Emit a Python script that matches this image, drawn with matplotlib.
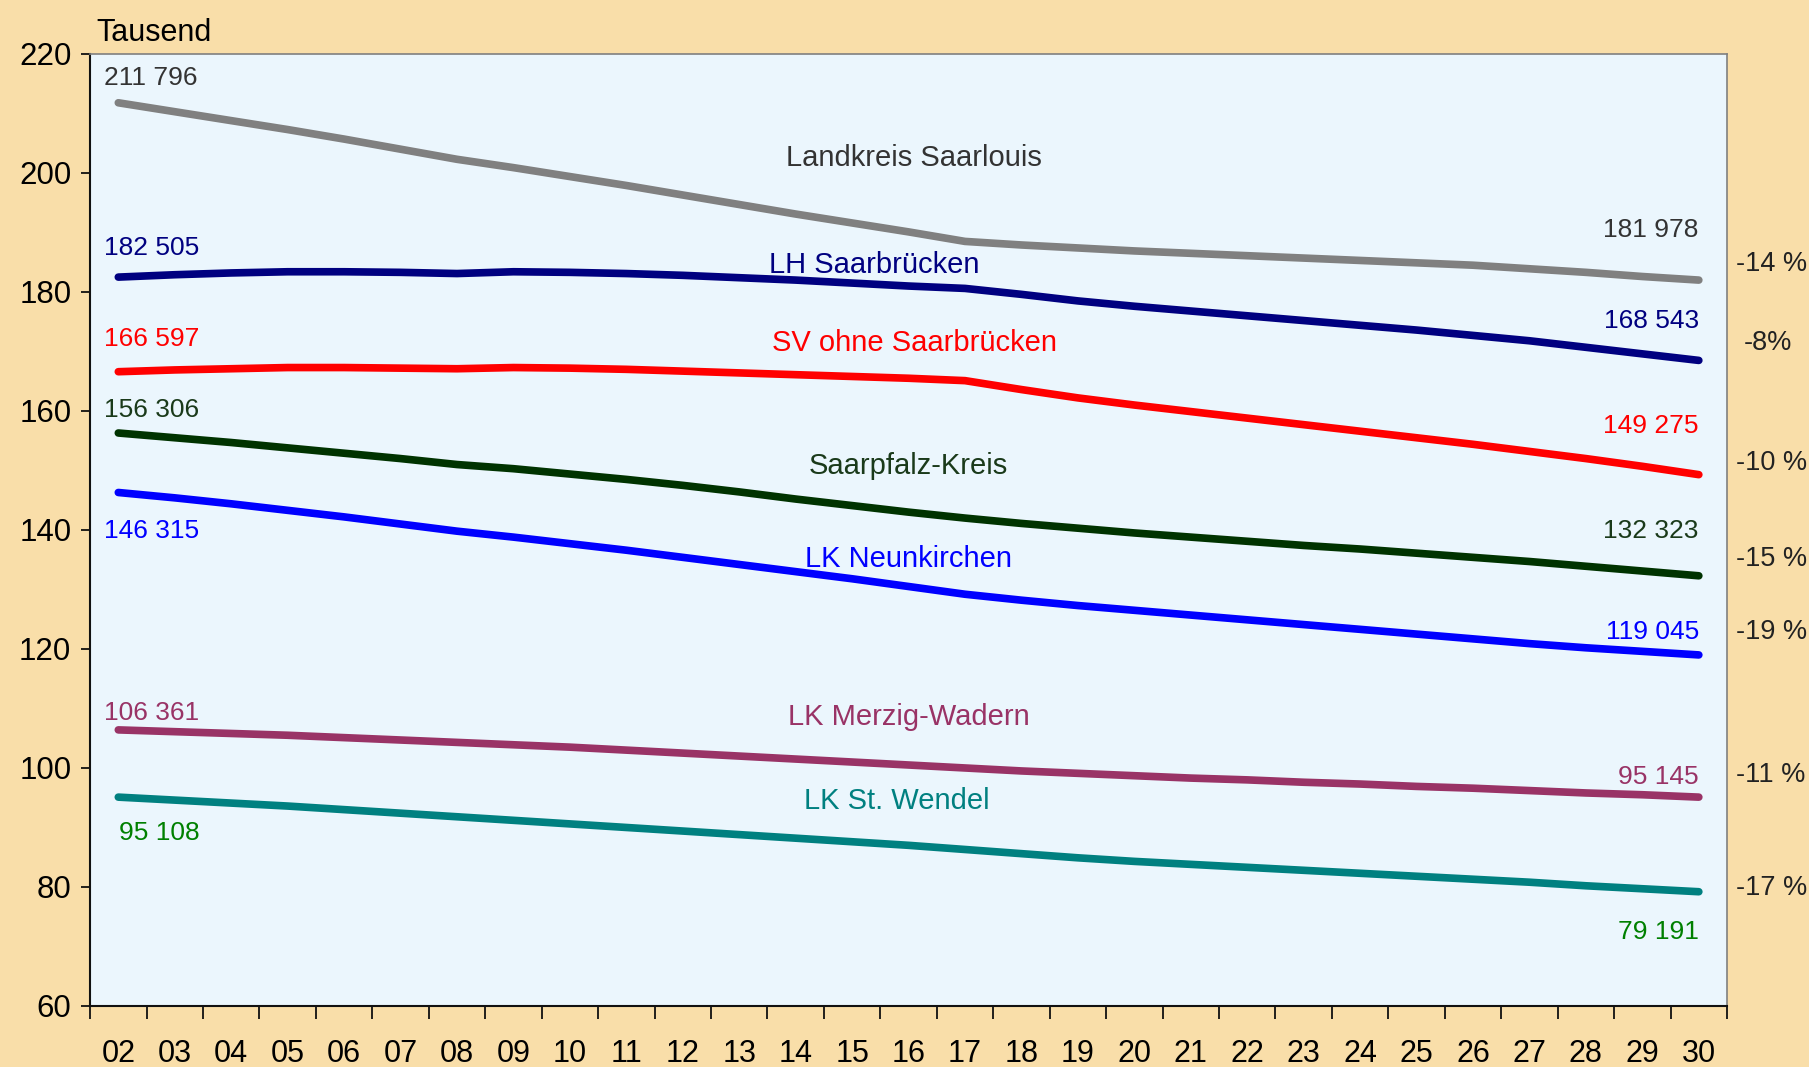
import matplotlib
matplotlib.use("Agg")
import matplotlib.pyplot as plt
from matplotlib.ticker import FixedLocator

plt.rcParams['font.family'] = ['Liberation Sans', 'DejaVu Sans']

# Jahre 2002-2030 (zweistellig)
years = [f"{y:02d}" for y in range(2, 31)]

# Bevölkerung in Tausend
saarlouis = [211.8, 210.3, 208.8, 207.3, 205.7, 204.0, 202.3, 200.9, 199.4, 197.9,
             196.3, 194.7, 193.1, 191.6, 190.1, 188.5, 187.9, 187.4, 186.9, 186.5,
             186.1, 185.7, 185.3, 184.9, 184.5, 183.9, 183.3, 182.6, 182.0]
saarbruecken = [182.5, 182.9, 183.2, 183.4, 183.4, 183.3, 183.1, 183.4, 183.3, 183.1,
                182.8, 182.4, 182.0, 181.5, 181.0, 180.6, 179.6, 178.5, 177.6, 176.8,
                176.0, 175.2, 174.4, 173.6, 172.7, 171.8, 170.7, 169.6, 168.5]
sv_ohne_sb = [166.6, 166.9, 167.1, 167.3, 167.3, 167.2, 167.1, 167.3, 167.2, 167.0,
              166.7, 166.4, 166.1, 165.8, 165.5, 165.1, 163.6, 162.2, 161.0, 159.9,
              158.8, 157.7, 156.6, 155.5, 154.4, 153.2, 152.0, 150.7, 149.3]
saarpfalz = [156.3, 155.5, 154.7, 153.8, 152.9, 152.0, 151.0, 150.3, 149.4, 148.5,
             147.5, 146.4, 145.2, 144.1, 143.0, 142.0, 141.1, 140.3, 139.5, 138.8,
             138.1, 137.4, 136.8, 136.1, 135.4, 134.7, 133.9, 133.1, 132.3]
neunkirchen = [146.3, 145.4, 144.4, 143.3, 142.2, 141.0, 139.8, 138.8, 137.7, 136.6,
               135.4, 134.2, 133.0, 131.8, 130.5, 129.2, 128.2, 127.3, 126.5, 125.7,
               124.9, 124.1, 123.3, 122.5, 121.7, 120.9, 120.2, 119.6, 119.0]
merzig = [106.4, 106.1, 105.8, 105.5, 105.1, 104.7, 104.3, 103.9, 103.5, 103.0,
          102.5, 102.0, 101.5, 101.0, 100.5, 100.0, 99.5, 99.1, 98.7, 98.3,
          98.0, 97.6, 97.3, 96.9, 96.6, 96.2, 95.8, 95.5, 95.1]
st_wendel = [95.1, 94.6, 94.1, 93.6, 93.0, 92.4, 91.8, 91.2, 90.6, 90.0,
             89.4, 88.8, 88.2, 87.6, 87.0, 86.3, 85.6, 84.9, 84.3, 83.8,
             83.3, 82.8, 82.3, 81.8, 81.3, 80.8, 80.2, 79.7, 79.2]

names = ["Landkreis Saarlouis", "LH Saarbrücken", "SV ohne Saarbrücken", "Saarpfalz-Kreis",
         "LK Neunkirchen", "LK Merzig-Wadern", "LK St. Wendel"]
series = [saarlouis, saarbruecken, sv_ohne_sb, saarpfalz, neunkirchen, merzig, st_wendel]
start_labels = ["211 796", "182 505", "166 597", "156 306", "146 315", "106 361", "95 108"]
end_labels = ["181 978", "168 543", "149 275", "132 323", "119 045", "95 145", "79 191"]
changes = ["-14 %", "-8%", "-10 %", "-15 %", "-19 %", "-11 %", "-17 %"]

line_colors = ["#808080", "#000080", "#ff0000", "#003300", "#0000ff", "#993366", "#008080"]
text_colors = ["#333333", "#000080", "#ff0000", "#1a3a1a", "#0000ff", "#993366", "#008080"]
value_colors = ["#333333", "#000080", "#ff0000", "#1a3a1a", "#0000ff", "#993366", "#008000"]

# Textpositionen (Datenkoordinaten)
name_pos = [(14.1, 202.5), (13.4, 184.5), (14.1, 171.5), (14.0, 150.8),
            (14.0, 135.2), (14.0, 108.5), (13.8, 94.5)]
start_y = [215.9, 187.4, 172.1, 160.1, 139.9, 109.3, 89.1]
end_y = [190.5, 175.2, 157.5, 139.9, 122.8, 98.4, 72.4]
change_y = [184.7, 171.5, 151.3, 135.2, 122.8, 98.8, 79.8]

fig = plt.figure(figsize=(18.09, 10.67), dpi=100, facecolor="#f9dea9")
ax = fig.add_axes([0.0498, 0.0572, 0.9049, 0.8922], facecolor="#ebf6fd")

x = list(range(len(years)))
for vals, c in zip(series, line_colors):
    ax.plot(x, vals, color=c, lw=5.5, solid_capstyle="round", solid_joinstyle="round")

ax.set_xlim(-0.5, len(years) - 0.5)
ax.set_ylim(60, 220)
ax.set_yticks(range(60, 221, 20))
ax.set_xticks(x)
ax.set_xticklabels(years)
ax.xaxis.set_minor_locator(FixedLocator([i - 0.5 for i in range(len(years) + 1)]))
ax.tick_params(axis="x", which="major", length=0, pad=24, labelsize=22)
ax.tick_params(axis="x", which="minor", length=9, width=1.3, direction="out", color="#111111")
ax.tick_params(axis="y", length=6.5, width=1.3, pad=7, labelsize=22.5, color="#111111")

for side in ("left", "bottom"):
    ax.spines[side].set_color("#111111")
    ax.spines[side].set_linewidth(1.5)
for side in ("top", "right"):
    ax.spines[side].set_color("#808080")
    ax.spines[side].set_linewidth(1.2)

ax.text(-0.39, 223.6, "Tausend", fontsize=22, ha="left", va="center", clip_on=False)

for i in range(len(series)):
    nx, ny = name_pos[i]
    ax.text(nx, ny, names[i], fontsize=21, color=text_colors[i], ha="center", va="center")
    sx = 0.02 if i == 6 else -0.25
    ax.text(sx, start_y[i], start_labels[i], fontsize=19, color=value_colors[i],
            ha="left", va="center")
    ax.text(28.0, end_y[i], end_labels[i], fontsize=19, color=value_colors[i],
            ha="right", va="center")
    cx = 28.8 if changes[i] == "-8%" else 28.65
    ax.text(cx, change_y[i], changes[i], fontsize=19.5, color="#222222",
            ha="left", va="center", clip_on=False)

fig.savefig("out.png", dpi=100, facecolor=fig.get_facecolor())
